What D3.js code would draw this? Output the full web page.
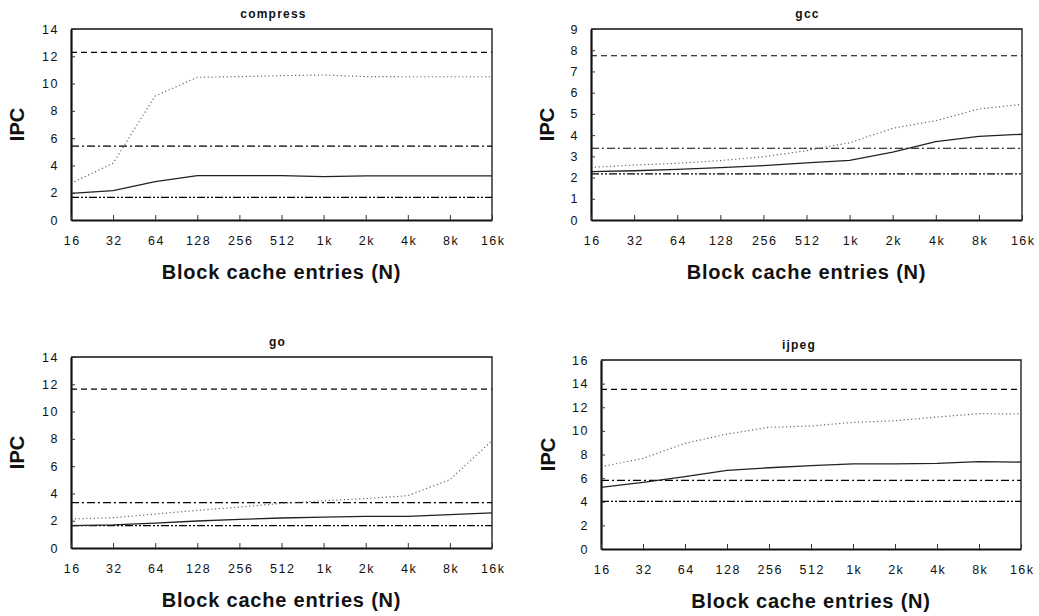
<!DOCTYPE html>
<html>
<head>
<meta charset="utf-8">
<script src="https://cdn.jsdelivr.net/npm/d3@7"></script>
<style>
  body { margin: 0; background: #fff; }
  svg { display: block; font-family: "Liberation Sans", Arial, sans-serif; }
</style>
</head>
<body>
<svg id="chart" width="1039" height="616"></svg>
<script>
// Block cache sizes along the x axis
const cacheSizes = ["16", "32", "64", "128", "256", "512", "1k", "2k", "4k", "8k", "16k"];

// compress
const compressSolid  = [1.95, 2.15, 2.81, 3.25, 3.25, 3.25, 3.18, 3.24, 3.24, 3.24, 3.24];
const compressDotted = [2.69, 4.16, 9.09, 10.46, 10.51, 10.58, 10.63, 10.51, 10.5, 10.5, 10.5];
const compressRefs   = [12.28, 5.42, 1.66];   // dashed, dash-dot, dash-dot-dot
const compressTicks  = [0, 2, 4, 6, 8, 10, 12, 14];

// gcc
const gccSolid  = [2.28, 2.32, 2.39, 2.47, 2.56, 2.69, 2.81, 3.2, 3.69, 3.94, 4.04];
const gccDotted = [2.48, 2.59, 2.67, 2.8, 2.98, 3.27, 3.64, 4.32, 4.68, 5.23, 5.45];
const gccRefs   = [7.74, 3.38, 2.17];
const gccTicks  = [0, 1, 2, 3, 4, 5, 6, 7, 8, 9];

// go
const goSolid  = [1.64, 1.69, 1.83, 1.98, 2.1, 2.2, 2.27, 2.32, 2.32, 2.44, 2.57];
const goDotted = [2.13, 2.22, 2.49, 2.76, 3.0, 3.27, 3.47, 3.62, 3.84, 5.01, 7.87];
const goRefs   = [11.65, 3.32, 1.64];
const goTicks  = [0, 2, 4, 6, 8, 10, 12, 14];

// ijpeg
const ijpegSolid  = [5.22, 5.64, 6.12, 6.66, 6.88, 7.05, 7.2, 7.2, 7.25, 7.39, 7.36];
const ijpegDotted = [6.97, 7.67, 8.94, 9.73, 10.3, 10.41, 10.72, 10.86, 11.17, 11.46, 11.43];
const ijpegRefs   = [13.52, 5.81, 4.03];
const ijpegTicks  = [0, 2, 4, 6, 8, 10, 12, 14, 16];

const panels = [
  { name: "compress", solid: compressSolid, dotted: compressDotted, refs: compressRefs, ticks: compressTicks,
    x0: 71, x1: 492, y0: 29, y1: 220, titleDx: -8, ipcX: 17 },
  { name: "gcc", solid: gccSolid, dotted: gccDotted, refs: gccRefs, ticks: gccTicks,
    x0: 591, x1: 1022, y0: 29, y1: 220, titleDx: 1, ipcX: 547 },
  { name: "go", solid: goSolid, dotted: goDotted, refs: goRefs, ticks: goTicks,
    x0: 71, x1: 492, y0: 357, y1: 548, titleDx: -4, ipcX: 17 },
  { name: "ijpeg", solid: ijpegSolid, dotted: ijpegDotted, refs: ijpegRefs, ticks: ijpegTicks,
    x0: 601, x1: 1021, y0: 360, y1: 549, titleDx: -12, ipcX: 548 }
];

const refStyles = ["6,4", "8,3,2,3", "8,2,2,2,2,2"];
const FONT = "'Liberation Sans', Arial, sans-serif";

const svg = d3.select("#chart");

panels.forEach(p => {
  const g = svg.append("g");
  const x = d3.scalePoint().domain(cacheSizes).range([p.x0, p.x1]);
  const yMax = p.ticks[p.ticks.length - 1];
  const y = d3.scaleLinear().domain([0, yMax]).range([p.y1, p.y0]);

  // frame: thin top/right border
  g.append("path")
    .attr("d", `M${p.x0},${p.y0}H${p.x1}V${p.y1}`)
    .attr("fill", "none").attr("stroke", "#111").attr("stroke-width", 1.3);

  // horizontal reference levels
  p.refs.forEach((v, i) => {
    g.append("line")
      .attr("x1", p.x0).attr("x2", p.x1)
      .attr("y1", y(v)).attr("y2", y(v))
      .attr("stroke", "#000").attr("stroke-width", 1.2)
      .attr("stroke-dasharray", refStyles[i]);
  });

  const line = d3.line()
    .x((d, i) => x(cacheSizes[i]))
    .y(d => y(d));

  g.append("path").datum(p.dotted)
    .attr("d", line).attr("fill", "none")
    .attr("stroke", "#666").attr("stroke-width", 1.2)
    .attr("stroke-dasharray", "1.2,2.6");

  g.append("path").datum(p.solid)
    .attr("d", line).attr("fill", "none")
    .attr("stroke", "#222").attr("stroke-width", 1.3);

  // y axis with inward ticks
  const yAxis = d3.axisLeft(y).tickValues(p.ticks).tickSizeInner(-4).tickSizeOuter(0).tickPadding(12);
  const ya = g.append("g").attr("transform", `translate(${p.x0},0)`).call(yAxis);
  ya.select(".domain").attr("stroke", "#111").attr("stroke-width", 2.2);
  ya.selectAll(".tick line").attr("stroke", "#333");
  ya.selectAll("text").attr("font-size", 12.5).attr("fill", "#111")
    .attr("letter-spacing", 1.5).attr("font-family", FONT);

  // x axis with inward ticks
  const xAxis = d3.axisBottom(x).tickSizeInner(-5).tickSizeOuter(0).tickPadding(16);
  const xa = g.append("g").attr("transform", `translate(0,${p.y1})`).call(xAxis);
  xa.select(".domain").attr("stroke", "#111").attr("stroke-width", 2.2);
  xa.selectAll(".tick line").attr("stroke", "#333");
  xa.selectAll("text").attr("font-size", 12.5).attr("fill", "#111")
    .attr("letter-spacing", 1.5).attr("dx", 0.75).attr("font-family", FONT);

  const cx = (p.x0 + p.x1) / 2;

  g.append("text")
    .attr("x", cx + p.titleDx).attr("y", p.y0 - 11)
    .attr("text-anchor", "middle")
    .attr("font-size", 12).attr("font-weight", "bold").attr("fill", "#111")
    .attr("letter-spacing", 1.2)
    .text(p.name);

  g.append("text")
    .attr("x", cx).attr("y", p.y1 + 59)
    .attr("text-anchor", "middle")
    .attr("font-size", 20).attr("font-weight", "bold").attr("fill", "#111")
    .attr("letter-spacing", 0.8)
    .text("Block cache entries (N)");

  g.append("text")
    .attr("transform", `translate(${p.ipcX + 7},${(p.y0 + p.y1) / 2}) rotate(-90)`)
    .attr("text-anchor", "middle")
    .attr("font-size", 20).attr("font-weight", "bold").attr("fill", "#111")
    .text("IPC");
});
</script>
</body>
</html>
